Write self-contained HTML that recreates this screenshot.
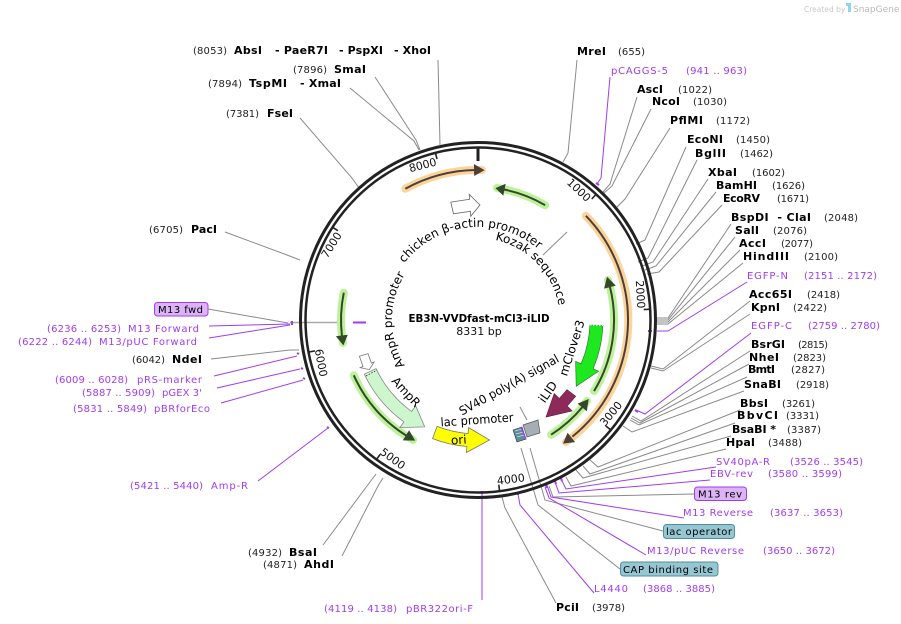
<!DOCTYPE html>
<html><head><meta charset="utf-8"><style>
html,body{margin:0;padding:0;background:#fff;}
svg{display:block;font-family:"DejaVu Sans","Liberation Sans",sans-serif;}
.b{font-weight:bold;fill:#000;font-size:11px;}
.n{fill:#222;}
.p{fill:#a03cf0;}
.l{stroke:#8a8a8a;stroke-width:1;fill:none;}
.lp{stroke:#a03cf0;stroke-width:1;fill:none;}
</style></head><body>
<svg width="901" height="624" viewBox="0 0 901 624" xmlns="http://www.w3.org/2000/svg" font-size="10">
<rect width="901" height="624" fill="#fff"/>
<text x="804" y="12" font-size="7.5" fill="#c8c8c8">Created by</text>
<path d="M846,3 h5 v9 h-3 v-6 h-2z" fill="#8fd3f5"/>
<text x="853" y="12" font-size="9" fill="#b8b8b8">SnapGene</text>

<g class="l">
<path d="M438,60 L440,145"/>
<path d="M375,77 L416,140 L420,150"/>
<path d="M350,88 L414,141 L419,150"/>
<path d="M300,118 L352,178 L359,188"/>
<path d="M225,232 L287,255 L300,260"/>
<path d="M208,309 L288,323"/>
<path d="M211,359 L290,350 L299,350"/>
<path d="M323,545 L370,482 L376,474"/>
<path d="M342,556 L378,486 L383,478"/>
<path d="M290,322.5 L343,322.5" stroke="#aaa" stroke-width="1.6"/>
<path d="M577,60 L568,153 L563,162"/>
<path d="M637,97 L610,184 L603,192"/>
<path d="M651,109 L612,186 L604,193"/>
<path d="M670,128 L625,199 L617,207"/>
<path d="M686,147 L645,240 L636,244"/>
<path d="M697,160 L648,258 L638,262"/>
<path d="M708,179 L653,262 L642,266"/>
<path d="M716,192 L656,266 L645,270"/>
<path d="M722,205 L659,272 L647,274"/>
<path d="M731,224 L668,318 L657,318"/>
<path d="M735,237 L668,320 L657,320"/>
<path d="M740,250 L668,322 L657,322"/>
<path d="M743,263 L668,324 L657,324"/>
<path d="M750,301 L663,369 L651,366"/>
<path d="M750,314 L663,371 L651,368"/>
<path d="M750,351 L641,421 L632,416"/>
<path d="M749,364 L640,423 L631,418"/>
<path d="M747,377 L639,425 L630,420"/>
<path d="M744,391 L632,432 L623,426"/>
<path d="M740,410 L598,467 L590,460"/>
<path d="M735,423 L590,474 L583,466"/>
<path d="M731,436 L583,478 L576,470"/>
<path d="M726,449 L571,486 L566,477"/>
<path d="M694,494 L553,497 L549,486"/>
<path d="M663,531 L545,500 L530,448"/>
<path d="M620,569 L538,505 L521,448"/>
<path d="M556,603 L505,508 L502,497"/>
<path d="M567,232 L543,255"/>
<path d="M520,407 L527,420"/>
</g>
<g class="lp">
<path d="M610,77 L601,178 L597,184"/>
<path d="M747,282 L668,331 L657,331"/>
<path d="M751,333 L645,414 L636,410"/>
<path d="M716,467 L566,489 L561,479"/>
<path d="M710,480 L559,493 L555,482"/>
<path d="M684,518 L551,497 L547,485"/>
<path d="M646,555 L549,498 L545,487"/>
<path d="M594,593 L520,505 L518,494"/>
<path d="M482,600 L482,493"/>
<path d="M209,326 L290,324"/>
<path d="M209,338 L290,325"/>
<path d="M214,376 L297,356"/>
<path d="M217,388 L300,369"/>
<path d="M221,403 L303,380"/>
<path d="M258,481 L328,428"/>
<path d="M353,322.5 L366,322.5" stroke-width="2"/>
</g>
<g stroke="#a03cf0" stroke-width="2">
<path d="M596,183 l3,2"/><path d="M648,331 l4,0"/><path d="M635,410 l3,2"/>
<path d="M292,321 v4"/><path d="M297,353 l2,1"/><path d="M301,368 l2,1"/><path d="M303,378 l2,1"/><path d="M327,427 l2,1"/>
<path d="M482,491 v3"/><path d="M518,492 v3"/><path d="M546,485 l1,3"/><path d="M555,481 l1,3"/><path d="M561,478 l1,3"/>
</g>

<circle cx="478" cy="320" r="177.5" fill="none" stroke="#222" stroke-width="3"/>
<circle cx="478" cy="320" r="172.5" fill="none" stroke="#222" stroke-width="2.5"/>
<g stroke="#222" stroke-width="1.6">
<path d="M478,147 L478,161" stroke-width="3"/>
<path d="M596.5,193.9 L591.7,199"/>
<path d="M650.7,309.2 L643.7,309.6"/>
<path d="M611.2,430.4 L605.8,425.9"/>
<path d="M499.6,491.6 L498.8,484.7"/>
<path d="M376.1,460 L380.2,454.3"/>
<path d="M308.1,352.2 L315,350.9"/>
<path d="M332,226.9 L337.9,230.7"/>
<path d="M435.3,152.4 L437,159.1"/>
</g>
<g font-size="11" fill="#111">
<text transform="translate(437.2,165.3) rotate(-14.3)" text-anchor="end">8000</text>
<text transform="translate(586.5,202.4) rotate(43.2)" text-anchor="end">1000</text>
<text transform="translate(637.5,308.6) rotate(86.4)" text-anchor="end">2000</text>
<text transform="translate(342.3,235.2) rotate(-57.6)" text-anchor="end">7000</text>
<text transform="translate(605,426.9) rotate(-50.4)">3000</text>
<text transform="translate(497.4,484.8) rotate(-7.2)">4000</text>
<text transform="translate(379.2,453.5) rotate(36)">5000</text>
<text transform="translate(314.7,349.7) rotate(79.2)">6000</text>
</g>

<g fill="none" stroke-linecap="round">
<path d="M405.3,188.8 A150,150 0 0 1 482,170" stroke="#fcd39a" stroke-width="8"/>
<path d="M585.9,215.8 A150,150 0 0 1 566,442" stroke="#fcd39a" stroke-width="8"/>
<path d="M545.1,205.2 A133,133 0 0 0 497,188" stroke="#bdf29a" stroke-width="8"/>
<path d="M594,391.1 A136,136 0 0 0 608,280" stroke="#bdf29a" stroke-width="8"/>
<path d="M551.1,434.7 A136,136 0 0 0 587,401" stroke="#bdf29a" stroke-width="8"/>
<path d="M353.8,375.3 A136,136 0 0 0 413,440" stroke="#bdf29a" stroke-width="8"/>
<path d="M343.8,292.7 A137,137 0 0 0 343,343" stroke="#bdf29a" stroke-width="8"/>
</g>
<g fill="none" stroke-width="2">
<path d="M405.3,188.8 A150,150 0 0 1 475.4,170" stroke="#4a4036"/>
<path d="M585.9,215.8 A150,150 0 0 1 572.4,436.6" stroke="#4a4036"/>
<path d="M545.1,205.2 A133,133 0 0 0 503.4,189.4" stroke="#33472a"/>
<path d="M594,391.1 A136,136 0 0 0 609.7,285.9" stroke="#33472a"/>
<path d="M551.1,434.7 A136,136 0 0 0 582.9,406.5" stroke="#33472a"/>
<path d="M353.8,375.3 A136,136 0 0 0 406.9,436" stroke="#33472a"/>
<path d="M343.8,292.7 A137,137 0 0 0 342,336.7" stroke="#33472a"/>
</g>
<g>
<path d="M484.5,170.1 L474.2,176.05 L473.9,164.05Z" fill="#4a4036"/>
<path d="M563,443.6 L567.6,432.7 L575.1,442.1Z" fill="#4a4036"/>
<path d="M495.4,188.1 L503.3,195.6 L505.7,183.8Z" fill="#33472a"/>
<path d="M607,276.8 L604.1,288.6 L615.8,285.6Z" fill="#33472a"/>
<path d="M588.7,399 L577.6,403.6 L586.8,411.3Z" fill="#33472a"/>
<path d="M415.2,440.6 L409.1,430.2 L402.8,440.4Z" fill="#33472a"/>
<path d="M343.4,345.4 L347.8,334.8 L335.9,336.2Z" fill="#33472a"/>
</g>

<path d="M602.9,325.5 A125,125 0 0 1 593.1,368.8 L598.6,371.2 L576.2,386.3 L575.6,361.4 L581.1,363.8 A112,112 0 0 0 589.9,324.9 Z" fill="#1ee81e" stroke="#2a6a2a" stroke-width="0.6"/>
<path d="M590,325 L603,325.5" stroke="#fff" stroke-width="1" stroke-dasharray="1.5,1.5"/>
<path d="M575.7,396.3 L567.2,406.1 L572.2,411 L546,417.1 L554.2,393.6 L559.3,398.5 L567,389.6 Z" fill="#8e2a5a" stroke="#5a1a3a" stroke-width="0.6"/>
<path d="M432.5,438.6 A127,127 0 0 0 466.9,446.5 L466.4,452.5 L489.5,440 L468.6,427.6 L468.1,433.6 A114,114 0 0 1 437.1,426.4 Z" fill="#ffff00" stroke="#777" stroke-width="0.8"/>
<text transform="translate(459,444) rotate(-4)" text-anchor="middle" font-size="12" fill="#000">ori</text>
<path d="M364.3,374.2 A126,126 0 0 0 403.9,421.9 L399.8,427.6 L424.7,426.9 L415.7,405.8 L411.6,411.4 A113,113 0 0 1 376,368.6 Z" fill="#cdf6cd" stroke="#888" stroke-width="0.8"/>
<path d="M366,376 L377,370" stroke="#333" stroke-width="0.8" stroke-dasharray="1.5,1.5"/>
<path d="M359.4,356.3 L363,366.5 L360.2,367.6 L369.3,369.6 L374.2,362 L371.4,363.1 L368,353.6 Z" fill="#fff" stroke="#777" stroke-width="0.8"/>
<path d="M450.8,202.1 L469.6,199.3 L469.2,194.3 L480,205 L470.7,216.3 L470.4,211.3 L453.5,213.8 Z" fill="#fff" stroke="#666" stroke-width="0.8"/>
<path d="M523,425 L538,420 L540,433 L527,437 Z" fill="#a5adb5" stroke="#555" stroke-width="0.7"/>
<path d="M513,430 L522,427 L526,439 L517,442 Z" fill="#5e8d9d" stroke="#333" stroke-width="0.6"/>
<path d="M515,431 L522,429 M516,434 L523,432 M517,437 L524,435" stroke="#fff" stroke-width="0.6"/>
<path d="M521,427 L526,439" stroke="#a03cf0" stroke-width="1.2"/>

<defs>
<path id="pc" d="M390.6,288.2 A93,93 0 0 1 556.9,270.7"/>
<path id="pk" d="M450,243 A82,82 0 0 1 554,350.7"/>
<path id="pa" d="M422.7,385.9 A86,86 0 0 1 422.7,254.1"/>
</defs>
<g font-size="12" fill="#000">
<text><textPath href="#pc" startOffset="50%" text-anchor="middle">chicken β-actin promoter</textPath></text>
<text><textPath href="#pk" startOffset="50%" text-anchor="middle">Kozak sequence</textPath></text>
<text><textPath href="#pa" startOffset="50%" text-anchor="middle">AmpR promoter</textPath></text>
<text transform="translate(406,392) rotate(48)" text-anchor="middle" y="4">AmpR</text>
<text transform="translate(509,385) rotate(-29)" text-anchor="middle" y="4" textLength="112" lengthAdjust="spacingAndGlyphs">SV40 poly(A) signal</text>
<text transform="translate(548,392) rotate(-55)" text-anchor="middle" y="4">iLID</text>
<text transform="translate(572,348) rotate(-72)" text-anchor="middle" y="4">mClover3</text>
<text transform="translate(477,420) rotate(-4)" text-anchor="middle" y="4" textLength="73" lengthAdjust="spacingAndGlyphs">lac promoter</text>
</g>
<text x="479" y="322" text-anchor="middle" font-size="11" font-weight="bold" textLength="141" lengthAdjust="spacingAndGlyphs">EB3N-VVDfast-mCl3-iLID</text>
<text x="479" y="335" text-anchor="middle" font-size="11" fill="#111">8331 bp</text>

<g>
<text x="193" y="54" class="n" textLength="34">(8053)</text>
<text x="234" y="54" class="b" textLength="28">AbsI</text>
<text x="275" y="54" class="b" textLength="53">- PaeR7I</text>
<text x="339" y="54" class="b" textLength="44">- PspXI</text>
<text x="394" y="54" class="b" textLength="37">- XhoI</text>
<text x="293" y="73" class="n" textLength="34">(7896)</text>
<text x="334" y="73" class="b" textLength="32">SmaI</text>
<text x="208" y="87" class="n" textLength="34">(7894)</text>
<text x="249" y="87" class="b" textLength="38">TspMI</text>
<text x="300" y="87" class="b" textLength="41">- XmaI</text>
<text x="226" y="117" class="n" textLength="33">(7381)</text>
<text x="267" y="117" class="b" textLength="26">FseI</text>
<text x="149" y="233" class="n" textLength="34">(6705)</text>
<text x="191" y="233" class="b" textLength="26">PacI</text>
<rect x="154.5" y="302.5" width="53.5" height="13.5" rx="3" fill="#dcb3f5" stroke="#a03cf0" stroke-width="1"/>
<text x="158" y="313" fill="#000" textLength="45">M13 fwd</text>
<text x="47" y="332" class="p" textLength="74">(6236 .. 6253)</text>
<text x="128" y="332" class="p" textLength="71">M13 Forward</text>
<text x="18" y="345" class="p" textLength="74">(6222 .. 6244)</text>
<text x="99" y="345" class="p" textLength="98">M13/pUC Forward</text>
<text x="132" y="363" class="n" textLength="33">(6042)</text>
<text x="172" y="363" class="b" textLength="30">NdeI</text>
<text x="55" y="383" class="p" textLength="73">(6009 .. 6028)</text>
<text x="137" y="383" class="p" textLength="65">pRS-marker</text>
<text x="82" y="396" class="p" textLength="73">(5887 .. 5909)</text>
<text x="162" y="396" class="p" textLength="40">pGEX 3'</text>
<text x="73" y="412" class="p" textLength="74">(5831 .. 5849)</text>
<text x="154" y="412" class="p" textLength="56">pBRforEco</text>
<text x="130" y="489" class="p" textLength="73">(5421 .. 5440)</text>
<text x="211" y="489" class="p" textLength="37">Amp-R</text>
<text x="248" y="556" class="n" textLength="34">(4932)</text>
<text x="289" y="556" class="b" textLength="28">BsaI</text>
<text x="263" y="568" class="n" textLength="34">(4871)</text>
<text x="304" y="568" class="b" textLength="30">AhdI</text>
<text x="324" y="612" class="p" textLength="73">(4119 .. 4138)</text>
<text x="406" y="612" class="p" textLength="67">pBR322ori-F</text>
</g>
<g>
<text x="577" y="55" class="b" textLength="29">MreI</text>
<text x="618" y="55" class="n" textLength="27">(655)</text>
<text x="611" y="74" class="p" textLength="57">pCAGGS-5</text>
<text x="686" y="74" class="p" textLength="61">(941 .. 963)</text>
<text x="637" y="93" class="b" textLength="26">AscI</text>
<text x="678" y="93" class="n" textLength="34">(1022)</text>
<text x="652" y="105" class="b" textLength="28">NcoI</text>
<text x="693" y="105" class="n" textLength="34">(1030)</text>
<text x="670" y="124" class="b" textLength="33">PflMI</text>
<text x="716" y="124" class="n" textLength="34">(1172)</text>
<text x="687" y="143" class="b" textLength="36">EcoNI</text>
<text x="736" y="143" class="n" textLength="34">(1450)</text>
<text x="695" y="157" class="b" textLength="31">BglII</text>
<text x="740" y="157" class="n" textLength="33">(1462)</text>
<text x="708" y="176" class="b" textLength="29">XbaI</text>
<text x="752" y="176" class="n" textLength="33">(1602)</text>
<text x="716" y="189" class="b" textLength="41">BamHI</text>
<text x="772" y="189" class="n" textLength="33">(1626)</text>
<text x="723" y="202" class="b" textLength="37">EcoRV</text>
<text x="777" y="202" class="n" textLength="32">(1671)</text>
<text x="731" y="221" class="b" textLength="80">BspDI&#160;&#160;- ClaI</text>
<text x="824" y="221" class="n" textLength="34">(2048)</text>
<text x="735" y="234" class="b" textLength="24">SalI</text>
<text x="773" y="234" class="n" textLength="34">(2076)</text>
<text x="739" y="247" class="b" textLength="27">AccI</text>
<text x="781" y="247" class="n" textLength="32">(2077)</text>
<text x="743" y="260" class="b" textLength="46">HindIII</text>
<text x="804" y="260" class="n" textLength="34">(2100)</text>
<text x="747" y="279" class="p" textLength="41">EGFP-N</text>
<text x="804" y="279" class="p" textLength="73">(2151 .. 2172)</text>
<text x="749" y="298" class="b" textLength="43">Acc65I</text>
<text x="807" y="298" class="n" textLength="33">(2418)</text>
<text x="751" y="311" class="b" textLength="29">KpnI</text>
<text x="793" y="311" class="n" textLength="34">(2422)</text>
<text x="751" y="329" class="p" textLength="41">EGFP-C</text>
<text x="808" y="329" class="p" textLength="72">(2759 .. 2780)</text>
<text x="751" y="348" class="b" textLength="34">BsrGI</text>
<text x="798" y="348" class="n" textLength="30">(2815)</text>
<text x="749" y="361" class="b" textLength="30">NheI</text>
<text x="793" y="361" class="n" textLength="33">(2823)</text>
<text x="748" y="373" class="b" textLength="27">BmtI</text>
<text x="791" y="373" class="n" textLength="34">(2827)</text>
<text x="744" y="388" class="b" textLength="37">SnaBI</text>
<text x="796" y="388" class="n" textLength="33">(2918)</text>
<text x="740" y="407" class="b" textLength="28">BbsI</text>
<text x="782" y="407" class="n" textLength="33">(3261)</text>
<text x="737" y="419" class="b" textLength="41">BbvCI</text>
<text x="786" y="419" class="n" textLength="33">(3331)</text>
<text x="732" y="433" class="b" textLength="44">BsaBI *</text>
<text x="787" y="433" class="n" textLength="34">(3387)</text>
<text x="726" y="446" class="b" textLength="29">HpaI</text>
<text x="768" y="446" class="n" textLength="34">(3488)</text>
<text x="716" y="465" class="p" textLength="54">SV40pA-R</text>
<text x="790" y="465" class="p" textLength="73">(3526 .. 3545)</text>
<text x="710" y="477" class="p" textLength="43">EBV-rev</text>
<text x="768" y="477" class="p" textLength="74">(3580 .. 3599)</text>
<rect x="694.5" y="487" width="52" height="13.5" rx="3" fill="#dcb3f5" stroke="#a03cf0" stroke-width="1"/>
<text x="698" y="497.5" fill="#000" textLength="44">M13 rev</text>
<text x="683" y="516" class="p" textLength="70">M13 Reverse</text>
<text x="770" y="516" class="p" textLength="73">(3637 .. 3653)</text>
<rect x="663.5" y="524.5" width="71" height="14" rx="3" fill="#96c6d2" stroke="#4d8f9e" stroke-width="1"/>
<text x="666" y="535" fill="#000" textLength="66">lac operator</text>
<text x="647" y="554" class="p" textLength="97">M13/pUC Reverse</text>
<text x="763" y="554" class="p" textLength="72">(3650 .. 3672)</text>
<rect x="620.5" y="562" width="97.5" height="14" rx="3" fill="#96c6d2" stroke="#4d8f9e" stroke-width="1"/>
<text x="623" y="573" fill="#000" textLength="90">CAP binding site</text>
<text x="594" y="592" class="p" textLength="34">L4440</text>
<text x="643" y="592" class="p" textLength="72">(3868 .. 3885)</text>
<text x="556" y="611" class="b" textLength="23">PciI</text>
<text x="592" y="611" class="n" textLength="33">(3978)</text>
</g>
</svg>
</body></html>
